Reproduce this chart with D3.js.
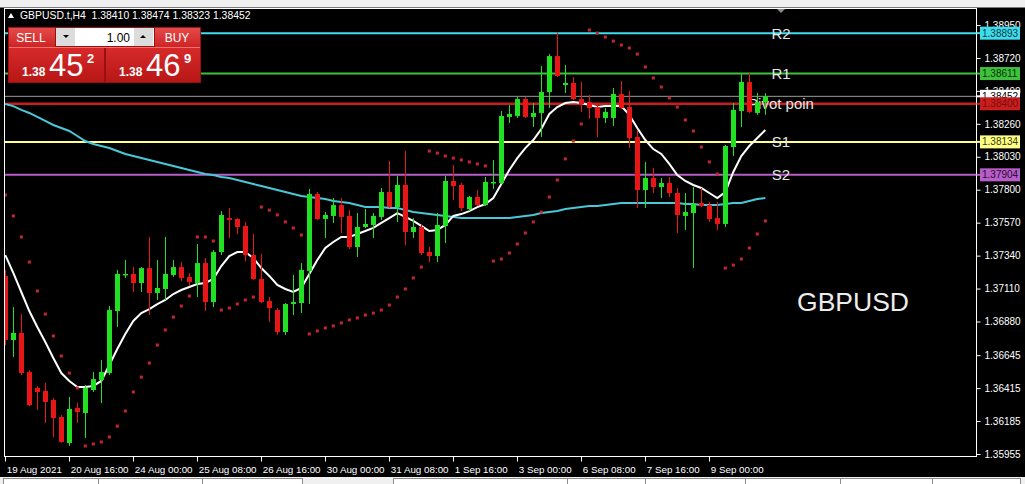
<!DOCTYPE html>
<html><head><meta charset="utf-8">
<script src="https://cdn.jsdelivr.net/npm/d3@7"></script>
<style>
html,body{margin:0;padding:0;background:#000;}
svg{display:block;}
text{font-family:"Liberation Sans",Arial,sans-serif;}
</style></head><body>
<svg id="c" width="1025" height="484"></svg>
<script>
// ---------- DATA ----------
const symbol = "GBPUSD.t,H4";
const headerOHLC = ["1.38410", "1.38474", "1.38323", "1.38452"];
const timeLabels = ["19 Aug 2021","20 Aug 16:00","24 Aug 00:00","25 Aug 08:00","26 Aug 16:00","30 Aug 00:00","31 Aug 08:00","1 Sep 16:00","3 Sep 00:00","6 Sep 08:00","7 Sep 16:00","9 Sep 00:00"];
const timeTickBars = [0,8,16,24,32,40,48,56,64,72,80,88];
const priceTicks = [1.38950,1.38720,1.38490,1.38260,1.38030,1.37800,1.37570,1.37340,1.37110,1.36880,1.36645,1.36415,1.36185,1.35955];

const open = [1.37198,1.36751,1.36800,1.36527,1.36416,1.36395,1.36332,1.36213,1.36032,1.36276,
1.36241,1.36402,1.36472,1.36520,1.36953,1.37205,1.37212,1.37149,1.37253,1.37079,
1.37107,1.37205,1.37260,1.37191,1.37149,1.37288,1.37016,1.37365,1.37602,1.37596,
1.37547,1.37344,1.37177,1.37023,1.36960,1.36807,1.37002,1.37009,1.37233,1.37770,
1.37596,1.37617,1.37693,1.37617,1.37400,1.37540,1.37554,1.37610,1.37784,1.37679,
1.37833,1.37505,1.37540,1.37365,1.37337,1.37547,1.37861,1.37833,1.37665,1.37749,
1.37693,1.37847,1.37847,1.38308,1.38315,1.38433,1.38308,1.38336,1.38482,1.38733,
1.38531,1.38545,1.38433,1.38412,1.38377,1.38301,1.38301,1.38468,1.38377,1.38168,
1.37798,1.37882,1.37819,1.37847,1.37777,1.37617,1.37637,1.37707,1.37693,1.37602,
1.37561,1.38098,1.38350,1.38552,1.38336,1.38410];
const high = [1.37240,1.36981,1.36932,1.36541,1.36430,1.36451,1.36346,1.36227,1.36353,1.36311,
1.36437,1.36527,1.36611,1.36988,1.37240,1.37309,1.37260,1.37260,1.37470,1.37309,
1.37470,1.37309,1.37295,1.37219,1.37421,1.37323,1.37379,1.37651,1.37672,1.37602,
1.37575,1.37491,1.37351,1.37051,1.36974,1.37009,1.37205,1.37288,1.37805,1.37784,
1.37644,1.37742,1.37742,1.37658,1.37637,1.37665,1.37637,1.37812,1.38001,1.37896,
1.38070,1.37602,1.37554,1.37400,1.37637,1.37896,1.37973,1.37847,1.37756,1.37798,
1.37889,1.38008,1.38350,1.38391,1.38447,1.38447,1.38405,1.38664,1.38747,1.38901,
1.38671,1.38587,1.38552,1.38461,1.38405,1.38370,1.38510,1.38559,1.38489,1.38217,
1.37994,1.37952,1.37882,1.37889,1.37812,1.37777,1.37819,1.37812,1.37714,1.37714,
1.38112,1.38405,1.38608,1.38615,1.38475,1.38474];
const low = [1.36716,1.36632,1.36506,1.36290,1.36262,1.36171,1.36074,1.36032,1.36011,1.36171,
1.36067,1.36388,1.36311,1.36506,1.36842,1.37184,1.37086,1.37086,1.36925,1.37030,
1.37030,1.37191,1.37163,1.37128,1.37051,1.36953,1.36981,1.37344,1.37463,1.37491,
1.37302,1.37170,1.37009,1.36877,1.36786,1.36786,1.36925,1.36939,1.37002,1.37589,
1.37463,1.37568,1.37498,1.37386,1.37330,1.37533,1.37463,1.37589,1.37672,1.37575,
1.37414,1.37463,1.37344,1.37295,1.37295,1.37428,1.37728,1.37651,1.37651,1.37686,
1.37686,1.37805,1.37840,1.38266,1.38301,1.38301,1.38238,1.38168,1.38370,1.38587,
1.38475,1.38426,1.38343,1.38294,1.38168,1.38266,1.38245,1.38363,1.38091,1.37672,
1.37672,1.37777,1.37742,1.37749,1.37498,1.37519,1.37253,1.37679,1.37575,1.37519,
1.37540,1.38035,1.38238,1.38336,1.38322,1.38323];
const close = [1.36751,1.36800,1.36520,1.36297,1.36388,1.36318,1.36206,1.36039,1.36269,1.36248,
1.36416,1.36478,1.36527,1.36960,1.37212,1.37212,1.37149,1.37253,1.37079,1.37114,
1.37212,1.37260,1.37184,1.37156,1.37288,1.37016,1.37365,1.37624,1.37589,1.37540,
1.37344,1.37177,1.37016,1.36974,1.36807,1.37002,1.37016,1.37240,1.37770,1.37596,
1.37624,1.37693,1.37610,1.37400,1.37540,1.37561,1.37617,1.37784,1.37679,1.37833,
1.37505,1.37540,1.37358,1.37337,1.37554,1.37861,1.37826,1.37672,1.37749,1.37693,
1.37854,1.37854,1.38315,1.38329,1.38433,1.38308,1.38336,1.38482,1.38733,1.38594,
1.38545,1.38433,1.38398,1.38370,1.38301,1.38343,1.38468,1.38370,1.38161,1.37798,
1.37882,1.37819,1.37847,1.37777,1.37624,1.37644,1.37700,1.37686,1.37596,1.37561,
1.38105,1.38357,1.38552,1.38343,1.38412,1.38452];
const maFast = [1.37344,1.37219,1.37086,1.36953,1.36842,1.36737,1.36625,1.36520,1.36465,1.36423,
1.36423,1.36430,1.36465,1.36576,1.36688,1.36793,1.36884,1.36939,1.36967,1.37002,
1.37030,1.37072,1.37100,1.37121,1.37142,1.37149,1.37177,1.37267,1.37337,1.37365,
1.37365,1.37323,1.37253,1.37198,1.37135,1.37107,1.37086,1.37114,1.37212,1.37309,
1.37393,1.37435,1.37470,1.37470,1.37491,1.37512,1.37533,1.37568,1.37602,1.37637,
1.37610,1.37582,1.37547,1.37512,1.37519,1.37554,1.37617,1.37630,1.37651,1.37679,
1.37700,1.37742,1.37840,1.37938,1.38021,1.38091,1.38147,1.38224,1.38329,1.38377,
1.38405,1.38412,1.38405,1.38391,1.38377,1.38384,1.38384,1.38384,1.38322,1.38231,
1.38147,1.38084,1.38050,1.37980,1.37903,1.37861,1.37833,1.37812,1.37777,1.37742,
1.37784,1.37924,1.38035,1.38105,1.38161,1.38217];
const maSlow = [1.38398,1.38384,1.38357,1.38336,1.38308,1.38280,1.38252,1.38231,1.38210,1.38175,
1.38140,1.38119,1.38105,1.38091,1.38070,1.38049,1.38035,1.38021,1.38008,1.37994,
1.37980,1.37966,1.37952,1.37938,1.37924,1.37910,1.37903,1.37889,1.37882,1.37868,
1.37854,1.37840,1.37826,1.37812,1.37798,1.37784,1.37770,1.37756,1.37749,1.37742,
1.37735,1.37721,1.37714,1.37707,1.37693,1.37679,1.37679,1.37679,1.37672,1.37672,
1.37658,1.37644,1.37637,1.37630,1.37624,1.37617,1.37610,1.37602,1.37602,1.37602,
1.37602,1.37602,1.37602,1.37602,1.37610,1.37617,1.37624,1.37637,1.37644,1.37651,
1.37665,1.37672,1.37679,1.37686,1.37686,1.37693,1.37700,1.37707,1.37707,1.37707,
1.37707,1.37707,1.37707,1.37707,1.37707,1.37700,1.37700,1.37693,1.37693,1.37693,
1.37700,1.37707,1.37707,1.37721,1.37735,1.37742];
const sar = [1.37763,1.37617,1.37470,1.37295,1.37093,1.36932,1.36779,1.36639,1.36520,1.36416,
1.36011,1.36025,1.36039,1.36074,1.36150,1.36255,1.36388,1.36492,1.36590,1.36716,
1.36821,1.36911,1.36988,1.37058,1.37470,1.37470,1.37442,1.36960,1.36974,1.37002,
1.37030,1.37051,1.37679,1.37658,1.37624,1.37575,1.37533,1.37484,1.36793,1.36814,
1.36835,1.36849,1.36870,1.36891,1.36905,1.36925,1.36939,1.36960,1.36995,1.37051,
1.37107,1.37184,1.37260,1.38070,1.38056,1.38035,1.38021,1.38008,1.37994,1.37980,
1.37966,1.37302,1.37316,1.37358,1.37421,1.37498,1.37575,1.37644,1.37749,1.37868,
1.38015,1.38140,1.38259,1.38915,1.38894,1.38866,1.38838,1.38810,1.38789,1.38747,
1.38657,1.38580,1.38517,1.38440,1.38377,1.38287,1.38210,1.38098,1.37994,1.37910,
1.37253,1.37274,1.37316,1.37393,1.37491,1.37582];
const levelNames = ["R2","R1","Pivot poin","S1","S2"];
const levelValues = [1.38893,1.38611,1.38400,1.38134,1.37904];
const levelColors = ["#3fdcec","#3ec23e","#c81e1e","#ffff8a","#b85ec8"];
const levelTextColors = ["#0a3a44","#063006","#7a0c0c","#3a3a00","#2a0a30"];
const currentPrice = 1.38452;
const sellPrice = ["1.38","45","2"];
const buyPrice = ["1.38","46","9"];
const lotSize = "1.00";

// ---------- DRAW ----------
const svg = d3.select('#c');
const W = 1025, H = 484;
const L = 4.5, R = 976.5, T = 8.5, B = 456.5;
const x = d3.scaleLinear().domain([0, 95]).range([5.3, 765.3]);
const y = d3.scaleLinear().domain([1.35955, 1.38950]).range([454, 25]);
const idx = d3.range(open.length);

svg.append('rect').attr('width', W).attr('height', H).attr('fill', '#000');
svg.append('rect').attr('x', 0).attr('y', 0).attr('width', W).attr('height', 7.5).attr('fill', '#f0f0f0');

const clip = svg.append('clipPath').attr('id', 'pc').append('rect')
  .attr('x', L + 0.5).attr('y', T + 0.5).attr('width', R - L - 1).attr('height', B - T - 1);
const g = svg.append('g').attr('clip-path', 'url(#pc)');

// current price line
g.append('line').attr('x1', L).attr('x2', R).attr('y1', y(currentPrice)).attr('y2', y(currentPrice))
  .attr('stroke', '#9a9a9a').attr('stroke-width', 1);
// pivot levels
levelValues.forEach((v, i) => {
  g.append('line').attr('x1', L).attr('x2', R).attr('y1', y(v)).attr('y2', y(v))
    .attr('stroke', levelColors[i]).attr('stroke-width', i === 2 ? 2.6 : 2);
});
// level labels
levelValues.forEach((v, i) => {
  g.append('text').attr('x', 781).attr('y', y(v)).attr('dy', '0.36em')
    .attr('text-anchor', 'middle').attr('fill', '#e6e6e6').attr('font-size', 15).text(levelNames[i]);
});

// slow MA
g.append('path').datum(idx).attr('fill', 'none').attr('stroke', '#48c8d8').attr('stroke-width', 2)
  .attr('d', d3.line().x(i => x(i)).y(i => y(maSlow[i])));
// fast MA
g.append('path').datum(idx).attr('fill', 'none').attr('stroke', '#ffffff').attr('stroke-width', 2)
  .attr('d', d3.line().x(i => x(i)).y(i => y(maFast[i])));
// SAR dots
g.selectAll('rect.sar').data(idx).enter().append('rect').attr('class', 'sar')
  .attr('x', i => x(i) - 1.5).attr('y', i => y(sar[i]) - 1.5).attr('width', 3).attr('height', 3)
  .attr('fill', '#c8262e');

// candles
const up = i => close[i] >= open[i];
const cg = g.append('g');
cg.selectAll('line.wick').data(idx).enter().append('line').attr('class', 'wick')
  .attr('x1', i => Math.round(x(i)) + 0.5).attr('x2', i => Math.round(x(i)) + 0.5)
  .attr('y1', i => y(high[i])).attr('y2', i => y(low[i]))
  .attr('stroke', i => up(i) ? '#22e022' : '#e81616').attr('stroke-width', 1);
cg.selectAll('rect.body').data(idx).enter().append('rect').attr('class', 'body')
  .attr('x', i => Math.round(x(i)) - 2).attr('width', 5)
  .attr('y', i => y(Math.max(open[i], close[i])))
  .attr('height', i => Math.max(1.5, Math.abs(y(open[i]) - y(close[i]))))
  .attr('fill', i => up(i) ? '#22e022' : '#e81616');

// big symbol label
svg.append('text').attr('x', 853).attr('y', 311).attr('text-anchor', 'middle')
  .attr('fill', '#ececec').attr('font-size', 26.5).text('GBPUSD');

// shift marker
svg.append('path').attr('d', 'M777,9 L785,9 L781,13 Z').attr('fill', '#8a8a8a');

// frame
svg.append('rect').attr('x', L).attr('y', T).attr('width', R - L).attr('height', B - T)
  .attr('fill', 'none').attr('stroke', '#ffffff').attr('stroke-width', 1);

// right axis
const ya = svg.append('g').attr('transform', `translate(${R},0)`)
  .call(d3.axisRight(y).tickValues(priceTicks).tickSize(4).tickPadding(4).tickFormat(d3.format('.5f')));
ya.select('.domain').remove();
ya.selectAll('line').attr('stroke', '#fff');
ya.selectAll('text').attr('fill', '#fff').attr('font-size', 10).attr('font-family', '"Liberation Sans",Arial,sans-serif');

// bottom axis
const xa = svg.append('g').attr('transform', `translate(0,${B})`)
  .call(d3.axisBottom(x).tickValues(timeTickBars).tickSize(5).tickPadding(4.5).tickFormat((d, i) => timeLabels[i]));
xa.select('.domain').remove();
xa.selectAll('line').attr('stroke', '#fff').attr('transform', 'translate(-0.3,0)');
xa.selectAll('text').attr('fill', '#fff').attr('font-size', 9.8).attr('text-anchor', 'start').attr('dx', 1)
  .attr('font-family', '"Liberation Sans",Arial,sans-serif');

// price boxes on axis
const boxes = [
  {v: currentPrice, fill: '#ffffff', tc: '#000000'},
  ...levelValues.map((v, i) => ({v, fill: levelColors[i], tc: levelTextColors[i]}))
];
const order = [0, 1, 2, 4, 5, 3];
order.forEach(k => {
  const b = boxes[k];
  svg.append('line').attr('x1', R).attr('x2', 981).attr('y1', y(b.v)).attr('y2', y(b.v))
    .attr('stroke', b.fill).attr('stroke-width', 2);
  svg.append('rect').attr('x', 980).attr('y', y(b.v) - 6.5).attr('width', 40).attr('height', 13).attr('fill', b.fill);
  svg.append('text').attr('x', 982).attr('y', y(b.v)).attr('dy', '0.35em').attr('fill', b.tc)
    .attr('font-size', 10).text(d3.format('.5f')(b.v));
});

// header
svg.append('path').attr('d', 'M8,18 L14,18 L11,13 Z').attr('fill', '#fff');
svg.append('text').attr('x', 20).attr('y', 19).attr('fill', '#fff').attr('font-size', 10.4)
  .attr('xml:space', 'preserve').text(symbol + '  ' + headerOHLC.join(' '));

// bottom window strip
svg.append('rect').attr('x', 0).attr('y', 477).attr('width', W).attr('height', 7).attr('fill', '#f0f0f0');
[[3, 302], [393, 1020]].forEach(([a, b2]) => {
  svg.append('rect').attr('x', a + 0.5).attr('y', 478.5).attr('width', b2 - a).attr('height', 8)
    .attr('fill', '#ffffff').attr('stroke', '#8c8c8c');
});
[98, 202, 567, 645, 745, 840, 932].forEach(px => {
  svg.append('line').attr('x1', px + 0.5).attr('x2', px + 0.5).attr('y1', 479).attr('y2', 484).attr('stroke', '#8c8c8c');
});

// trading panel
const defs = svg.append('defs');
const gr1 = defs.append('linearGradient').attr('id', 'gbtn').attr('x1', 0).attr('y1', 0).attr('x2', 0).attr('y2', 1);
gr1.append('stop').attr('offset', '0%').attr('stop-color', '#e64a4a');
gr1.append('stop').attr('offset', '100%').attr('stop-color', '#cc2222');
const gr2 = defs.append('linearGradient').attr('id', 'gbox').attr('x1', 0).attr('y1', 0).attr('x2', 0).attr('y2', 1);
gr2.append('stop').attr('offset', '0%').attr('stop-color', '#d62a2a');
gr2.append('stop').attr('offset', '100%').attr('stop-color', '#b81616');

const p = svg.append('g');
p.append('rect').attr('x', 8).attr('y', 27).attr('width', 193).attr('height', 56).attr('fill', '#9a1010');
// sell / buy buttons
p.append('rect').attr('x', 9).attr('y', 28).attr('width', 46).attr('height', 20).attr('fill', 'url(#gbtn)');
p.append('rect').attr('x', 155).attr('y', 28).attr('width', 45).attr('height', 20).attr('fill', 'url(#gbtn)');
p.append('text').attr('x', 31).attr('y', 42).attr('text-anchor', 'middle').attr('fill', '#fff').attr('font-size', 12).text('SELL');
p.append('text').attr('x', 177).attr('y', 42).attr('text-anchor', 'middle').attr('fill', '#fff').attr('font-size', 12).text('BUY');
// spinner
p.append('rect').attr('x', 56).attr('y', 28).attr('width', 98).attr('height', 18).attr('fill', '#ffffff');
p.append('rect').attr('x', 56).attr('y', 28).attr('width', 19).attr('height', 18).attr('fill', '#dcdcdc');
p.append('rect').attr('x', 134).attr('y', 28).attr('width', 19).attr('height', 18).attr('fill', '#dcdcdc');
p.append('path').attr('d', 'M63,35 L69,35 L66,38 Z').attr('fill', '#000');
p.append('path').attr('d', 'M140,38 L146,38 L143,35 Z').attr('fill', '#000');
p.append('text').attr('x', 130).attr('y', 41.5).attr('text-anchor', 'end').attr('fill', '#000').attr('font-size', 12).text(lotSize);
// price boxes
p.append('rect').attr('x', 9).attr('y', 48).attr('width', 95).attr('height', 34).attr('fill', 'url(#gbox)');
p.append('rect').attr('x', 106).attr('y', 48).attr('width', 94).attr('height', 34).attr('fill', 'url(#gbox)');
p.append('line').attr('x1', 9).attr('x2', 200).attr('y1', 47.5).attr('y2', 47.5).attr('stroke', '#f07070').attr('stroke-width', 1);
[[22, sellPrice], [119, buyPrice]].forEach(([x0, pr]) => {
  p.append('text').attr('x', x0).attr('y', 76).attr('fill', '#fff').attr('font-size', 12).attr('font-weight', 'bold').text(pr[0]);
  p.append('text').attr('x', x0 + 27).attr('y', 76).attr('fill', '#fff').attr('font-size', 31).text(pr[1]);
  p.append('text').attr('x', x0 + 65).attr('y', 63).attr('fill', '#fff').attr('font-size', 13).attr('font-weight', 'bold').text(pr[2]);
});
</script>
</body></html>
